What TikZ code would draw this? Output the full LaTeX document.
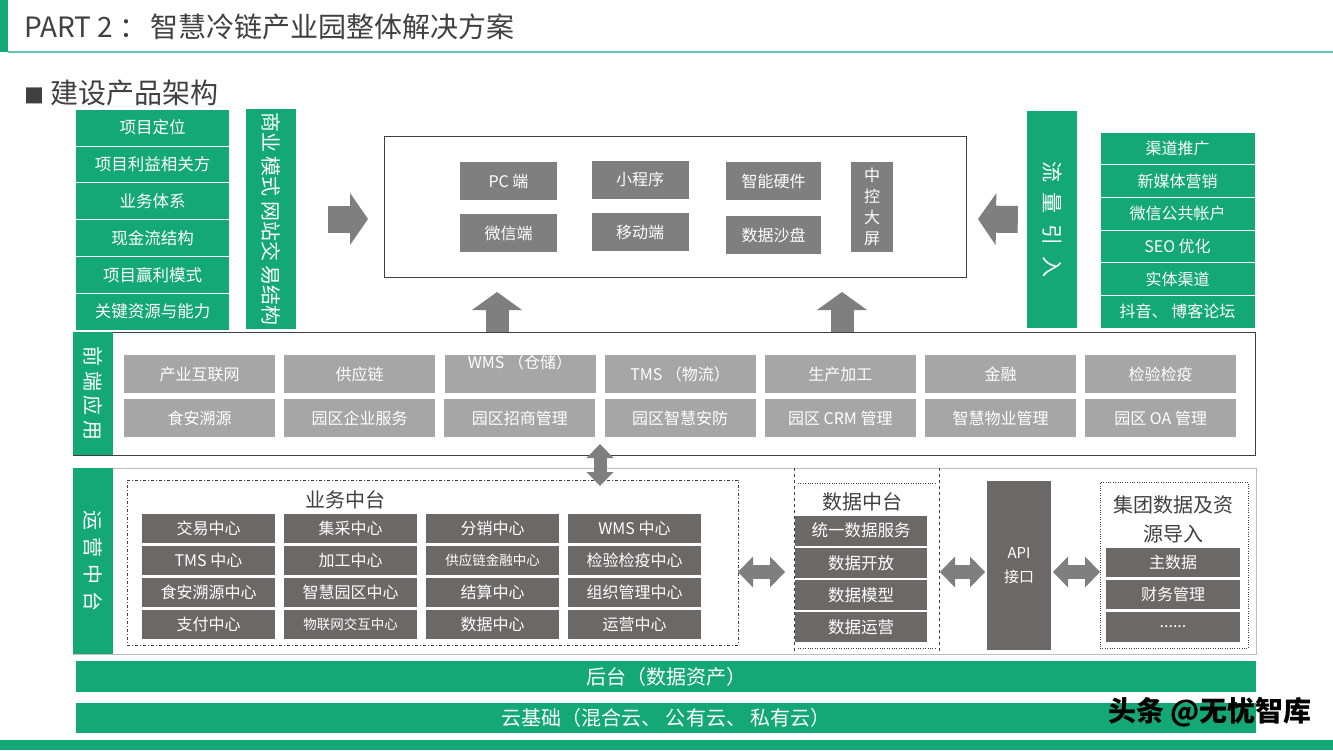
\documentclass[tikz,border=0pt]{standalone}
\usepackage{fontspec}
\setmainfont{Noto Sans CJK SC}
\usetikzlibrary{arrows.meta}

\definecolor{cgreen}{RGB}{20,168,118}
\definecolor{cteal}{RGB}{100,196,178}
\definecolor{cdark}{RGB}{108,104,103}
\definecolor{cmid}{RGB}{127,127,127}
\definecolor{clight}{RGB}{166,166,166}
\definecolor{ctext}{RGB}{64,64,64}
\definecolor{cline}{RGB}{190,190,190}

\newcommand{\fsz}[1]{\fontsize{#1}{#1}\selectfont}

\begin{document}
\begin{tikzpicture}[x=1pt,y=-1pt,
  box/.style={inner sep=0pt,text=white,font=\fsz{16}},
  gbox/.style={box,fill=cgreen,draw=white,line width=0.8pt},
  tag/.style={box,fill=cgreen,font=\fsz{20}},
  mbox/.style={box,fill=cmid,minimum width=97pt,minimum height=38pt},
  lbox/.style={box,fill=clight,minimum width=151pt,minimum height=38pt},
  dbox/.style={box,fill=cdark,minimum height=29pt},
  hd/.style={inner sep=0pt,text=ctext,font=\fsz{20}},
  blkh/.style={draw=cmid,line width=27pt,-{Triangle[length=18pt,width=52pt,line width=0pt]}},
  blkv/.style={draw=cmid,line width=23pt,-{Triangle[length=18pt,width=50pt,line width=0pt]}},
  dblh/.style={draw=cmid,line width=14pt,{Triangle[length=15pt,width=31pt,line width=0pt]}-{Triangle[length=15pt,width=31pt,line width=0pt]}},
  dblv/.style={draw=cmid,line width=13pt,{Triangle[length=14pt,width=27pt,line width=0pt]}-{Triangle[length=14pt,width=27pt,line width=0pt]}}]
\useasboundingbox (0,0) rectangle (1333,750);
\fill[white] (0,0) rectangle (1333,750);

% header
\fill[cgreen] (0,0) rectangle (8,52);
\draw[cteal,line width=1.5pt] (8,52) -- (1333,52);
\node[anchor=west,inner sep=0pt,text=ctext,font=\fsz{28}] (title) at (24,27) {PART 2 ：\hspace{3pt}智慧冷链产业园整体解决方案};
\node[anchor=west,inner sep=0pt,text=ctext,font=\fsz{28}] (sub) at (24,93) {{\fsz{20}■} 建设产品架构};

% left column
\foreach \t [count=\i] in {项目定位,项目利益相关方,业务体系,现金流结构,项目赢利模式,关键资源与能力}
  \node[gbox,font=\fsz{16.5},minimum width=154pt,minimum height=36.8pt] (lf\i) at (152.5,{127.5+36.8*(\i-1)}) {\t};
\node[tag,font=\fsz{20},minimum width=50pt,minimum height=220pt] (biz) at (271,219) {\rotatebox{-90}{商业 模式 网站交 易结构}};

% terminals
\node[draw=ctext,line width=0.8pt,minimum width=582pt,minimum height=141pt] (top) at (675,206.5) {};
\node[mbox] (pc) at (508.5,181) {PC 端};
\node[mbox] (wx) at (508.5,233) {微信端};
\node[mbox] (xcx) at (640,179.5) {小程序};
\node[mbox] (yd) at (640,232) {移动端};
\node[mbox,minimum width=95pt] (zn) at (773.5,181) {智能硬件};
\node[mbox,minimum width=95pt] (sp) at (773.5,235) {数据沙盘};
\node[mbox,minimum width=42pt,minimum height=90pt,align=center,font=\fontsize{16}{21}\selectfont] (zk) at (872,207) {中\\控\\大\\屏};

% traffic
\node[tag,font=\fsz{21},minimum width=50pt,minimum height=217pt] (flow) at (1052,219.5) {\rotatebox{-90}{流\hspace{11pt}量\hspace{11pt}引\hspace{11pt}入}};
\foreach \t [count=\i] in {渠道推广,新媒体营销,微信公共帐户,SEO 优化,实体渠道,抖音、 博客论坛}
  \node[gbox,minimum width=155pt,minimum height=32.7pt] (rf\i) at (1177.5,{148.3+32.7*(\i-1)}) {\t};

% front end
\node[draw=ctext,line width=0.8pt,minimum width=1182pt,minimum height=123pt] (front) at (664,393.5) {};
\node[tag,minimum width=40pt,minimum height=123pt] (fl) at (93,393.5) {\rotatebox{-90}{前 端 应 用}};
\foreach \t/\i in {产业互联网/1,供应链/2,TMS （物流）/4,生产加工/5,金融/6,检验检疫/7}
  \node[lbox] (fa\i) at ({199.5+160.2*(\i-1)},374) {\t};
\node[lbox] (fa3) at (520,374) {\raisebox{6pt}[0pt][0pt]{WMS （仓储）}};
\foreach \t [count=\i] in {食安溯源,园区企业服务,园区招商管理,园区智慧安防,园区 CRM 管理,智慧物业管理,园区 OA 管理}
  \node[lbox] (fb\i) at ({199.5+160.2*(\i-1)},418) {\t};

% operations
\node[draw=cline,line width=0.8pt,minimum width=1183pt,minimum height=186pt] (ops) at (664.5,561) {};
\node[tag,minimum width=40pt,minimum height=186pt] (ol) at (93,561) {\rotatebox{-90}{运\hspace{7pt}营\hspace{7pt}中\hspace{7pt}台}};
\node[draw=ctext,dash pattern=on 3pt off 2pt on 1pt off 2pt,minimum width=611pt,minimum height=165pt] (bm) at (432.5,562.5) {};
\node[hd] (bmt) at (345,500) {业务中台};
\foreach \t [count=\i from 0] in {交易中心,集采中心,分销中心,WMS 中心,TMS 中心,加工中心,\fsz{13.5}供应链金融中心,检验检疫中心,食安溯源中心,智慧园区中心,结算中心,组织管理中心,支付中心,\fsz{13.5}物联网交互中心,数据中心,运营中心}{
  \pgfmathtruncatemacro\c{mod(\i,4)}
  \pgfmathtruncatemacro\r{\i/4}
  \node[dbox,minimum width=133pt] (om\i) at ({208.5+142*\c},{528.5+32*\r}) {\t};
}

% data platform
\draw[dashed,ctext] (794,468) -- (794,654);
\draw[dashed,ctext] (939,468) -- (939,654);
\draw[dotted,ctext] (798,483) -- (935,483);
\draw[dotted,ctext] (798,648) -- (935,648);
\node[hd] (dmt) at (862,502) {数据中台};
\foreach \t [count=\i] in {统一数据服务,数据开放,数据模型,数据运营}
  \node[dbox,font=\fsz{16.5},minimum width=132pt,minimum height=30pt] (dm\i) at (861,{530.5+32.3*(\i-1)}) {\t};

\node[dbox,minimum width=64pt,minimum height=169pt,align=center,font=\fontsize{15}{24}\selectfont] (api) at (1019,565.5) {API\\接口};

\node[draw=ctext,dotted,minimum width=148pt,minimum height=166pt] (grp) at (1174,565) {};
\node[hd,align=center,font=\fontsize{20}{29}\selectfont] (grpt) at (1173,519) {集团数据及资\\源导入};
\node[dbox,minimum width=134pt] (gi1) at (1173,562) {主数据};
\node[dbox,minimum width=134pt] (gi2) at (1173,594.5) {财务管理};
\node[dbox,minimum width=134pt,minimum height=30pt] (gi3) at (1173,627) {......};

% arrows
\coordinate (ra) at (368,219);
\coordinate (la) at (978,219);
\coordinate (ua) at (497,292);
\coordinate (ub) at (842,292);
\draw[blkh] ([xshift=32pt]biz.east) -- (ra);
\draw[blkh] ([xshift=-9pt]flow.west) -- (la);
\draw[blkv] (front.north -| ua) -- (ua);
\draw[blkv] (front.north -| ub) -- (ub);
\coordinate (va) at (600,444);
\coordinate (vb) at (600,486);
\draw[dblv] (va) -- (vb);
\coordinate (h1) at (738,572);
\coordinate (h2) at (785,572);
\coordinate (h3) at (940,572);
\coordinate (h4) at (985,572);
\coordinate (h5) at (1053,572);
\coordinate (h6) at (1100,572);
\draw[dblh] (h1) -- (h2);
\draw[dblh] (h3) -- (h4);
\draw[dblh] (h5) -- (h6);

% back end
\node[box,fill=cgreen,font=\fsz{20},minimum width=1180pt,minimum height=31pt] (bk) at (666,676.5) {后台（数据资产）};
\node[box,fill=cgreen,font=\fsz{20},minimum width=1180pt,minimum height=30pt] (cloud) at (666,718) {云基础（混合云、 公有云、 私有云）};
\fill[cgreen] (0,740) rectangle (1333,750);
\node[anchor=east,inner sep=0pt,font=\fsz{28}\bfseries] (wm) at (1312,712) {头条 @无忧智库};
\end{tikzpicture}
\end{document}
